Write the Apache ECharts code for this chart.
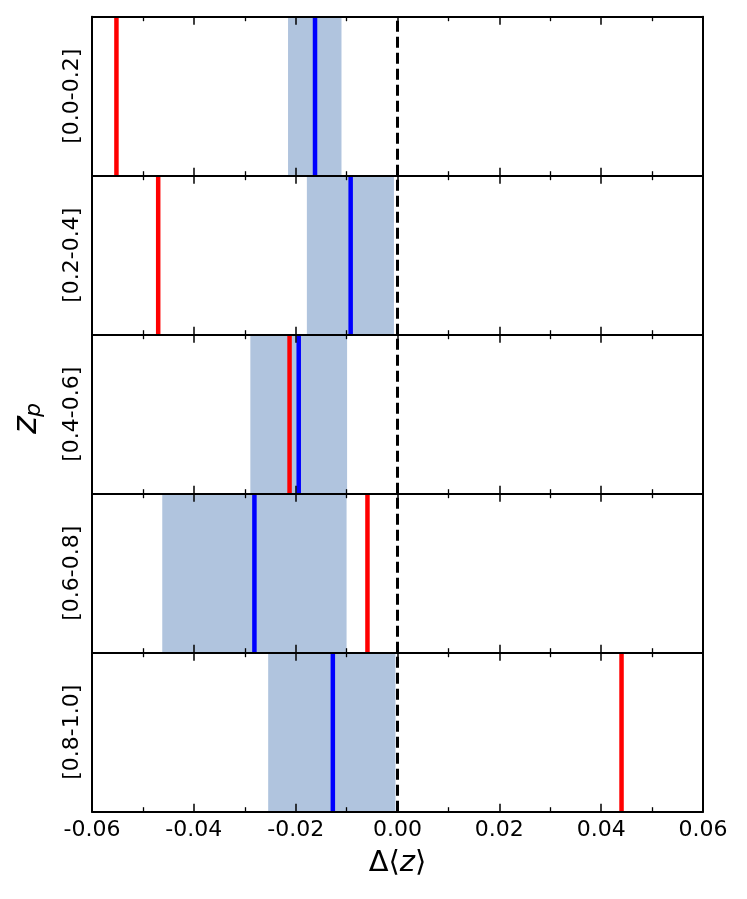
<!DOCTYPE html>
<html>
<head>
<meta charset="utf-8">
<script src="https://cdn.jsdelivr.net/npm/echarts@6/dist/echarts.min.js"></script>
<style>
html,body{margin:0;padding:0;background:#fff;}
#chart{width:747px;height:899px;}
</style>
</head>
<body>
<div id="chart"></div>
<script>
const categories = ['[0.0-0.2]', '[0.2-0.4]', '[0.4-0.6]', '[0.6-0.8]', '[0.8-1.0]'];
const redValues  = [-0.0552, -0.0470, -0.0212, -0.0059, 0.0440];
const blueValues = [-0.0162, -0.0092, -0.0194, -0.0281, -0.0127];
const bandLow    = [-0.0215, -0.0178, -0.0289, -0.0462, -0.0254];
const bandHigh   = [-0.0110, -0.0007, -0.0099, -0.0100, -0.0004];
const refValue = 0;
const xMin = -0.06, xMax = 0.06, xStep = 0.02;

const FONT = 'DejaVu Sans';
const left = 92, right = 44, top0 = 16.7, panelH = 159;

const grids = [], xAxes = [], yAxes = [], series = [];
categories.forEach((cat, i) => {
  grids.push({left: left, right: right, top: top0 + i * panelH, height: panelH, show: false});
  const isLast = i === categories.length - 1;
  ['bottom', 'top'].forEach(pos => {
    xAxes.push({
      type: 'value', gridIndex: i, position: pos, min: xMin, max: xMax, interval: xStep, z: 10,
      axisLine: {show: true, onZero: false, lineStyle: {color: '#000', width: 2}},
      axisTick: {show: true, inside: true, length: 8, lineStyle: {color: '#000', width: 1.5}},
      minorTick: {show: true, splitNumber: 2, length: 4.5, lineStyle: {color: '#000', width: 1.3}},
      splitLine: {show: false},
      axisLabel: {show: isLast && pos === 'bottom', color: '#000', fontFamily: FONT, fontSize: 22, margin: 8,
        formatter: v => v.toFixed(2)},
      name: (isLast && pos === 'bottom') ? '{a|Δ⟨}{b|z}{a|⟩}' : '',
      nameLocation: 'middle', nameGap: 37,
      nameTextStyle: {rich: {
        a: {fontFamily: FONT, fontSize: 29, color: '#000'},
        b: {fontFamily: FONT, fontSize: 29, fontStyle: 'italic', color: '#000'}
      }}
    });
  });
  ['left', 'right'].forEach(pos => {
    yAxes.push({
      type: 'value', gridIndex: i, position: pos, min: 0, max: 1, z: 10,
      axisLine: {show: true, onZero: false, lineStyle: {color: '#000', width: 2}},
      axisTick: {show: false}, axisLabel: {show: false}, splitLine: {show: false},
      name: pos === 'left' ? cat : '', nameLocation: 'middle', nameRotate: 90, nameGap: 9,
      nameTextStyle: {fontFamily: FONT, fontSize: 22, color: '#000'}
    });
  });
  series.push({
    type: 'line', xAxisIndex: 2 * i, yAxisIndex: 2 * i, showSymbol: false, silent: true,
    data: [[blueValues[i], 0], [blueValues[i], 1]],
    lineStyle: {color: '#0000ff', width: 4.5}, z: 3,
    markArea: {silent: true, itemStyle: {color: '#b0c4de', opacity: 1, borderWidth: 0},
      data: [[{xAxis: bandLow[i]}, {xAxis: bandHigh[i]}]]}
  });
  series.push({
    type: 'line', xAxisIndex: 2 * i, yAxisIndex: 2 * i, showSymbol: false, silent: true,
    data: [[redValues[i], 0], [redValues[i], 1]],
    lineStyle: {color: '#ff0000', width: 4.5}, z: 3,
    markLine: {silent: true, symbol: ['none', 'none'], label: {show: false},
      lineStyle: {color: '#000', width: 3, type: [11, 5]},
      data: [{xAxis: refValue}]}
  });
});

const chart = echarts.init(document.getElementById('chart'), null, {renderer: 'canvas'});
chart.setOption({
  animation: false,
  backgroundColor: '#fff',
  grid: grids, xAxis: xAxes, yAxis: yAxes, series: series,
  graphic: [
    {type: 'text', x: 27, y: 434, rotation: Math.PI / 2,
      style: {text: 'z', font: 'italic 34px "DejaVu Sans"', fill: '#000', textAlign: 'left', textVerticalAlign: 'middle'}},
    {type: 'text', x: 34.5, y: 417, rotation: Math.PI / 2,
      style: {text: 'p', font: 'italic 22px "DejaVu Sans"', fill: '#000', textAlign: 'left', textVerticalAlign: 'middle'}}
  ]
});
</script>
</body>
</html>
